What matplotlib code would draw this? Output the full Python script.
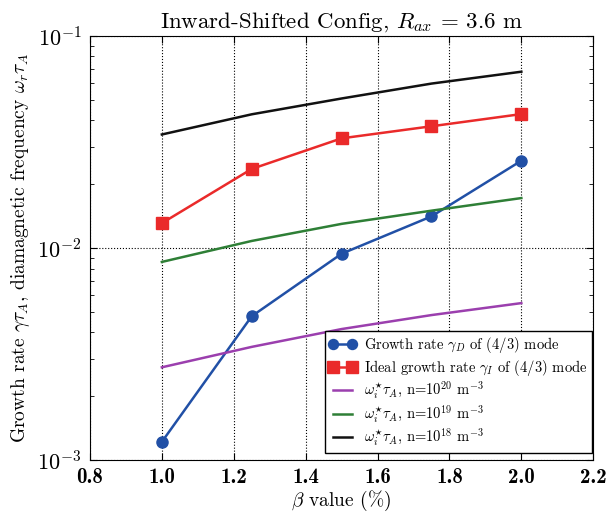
import matplotlib
matplotlib.use('Agg')
import matplotlib.pyplot as plt

# data
beta = [1.0, 1.25, 1.5, 1.75, 2.0]
gamma_D = [1.22e-3, 4.77e-3, 9.4e-3, 1.41e-2, 2.58e-2]
gamma_I = [1.31e-2, 2.36e-2, 3.29e-2, 3.75e-2, 4.28e-2]
omega_n20 = [2.74e-3, 3.42e-3, 4.15e-3, 4.83e-3, 5.5e-3]
omega_n19 = [8.6e-3, 1.08e-2, 1.30e-2, 1.50e-2, 1.72e-2]
omega_n18 = [3.43e-2, 4.27e-2, 5.07e-2, 5.96e-2, 6.78e-2]
xticks = [0.8, 1.0, 1.2, 1.4, 1.6, 1.8, 2.0, 2.2]

plt.rcParams['font.family'] = ['cmr10', 'DejaVu Serif']
plt.rcParams['mathtext.fontset'] = 'cm'
plt.rcParams['axes.formatter.use_mathtext'] = True
plt.rcParams['axes.unicode_minus'] = False

fig = plt.figure(figsize=(6.1, 5.13), dpi=100)
ax = fig.add_axes([0.1475, 0.103, 0.825, 0.827])

ax.plot(beta, gamma_D, '-o', color='#2150a6', lw=1.8, ms=8,
        label=r'Growth rate $\gamma_D$ of (4/3) mode')
ax.plot(beta, gamma_I, '-s', color='#ea2a2a', lw=1.8, ms=9,
        label=r'Ideal growth rate $\gamma_I$ of (4/3) mode')
ax.plot(beta, omega_n20, '-', color='#9b3fae', lw=1.8,
        label=r'$\omega_i^{\star}\tau_A$, n=$10^{20}$ m$^{-3}$')
ax.plot(beta, omega_n19, '-', color='#2e7f36', lw=1.8,
        label=r'$\omega_i^{\star}\tau_A$, n=$10^{19}$ m$^{-3}$')
ax.plot(beta, omega_n18, '-', color='#111111', lw=1.8,
        label=r'$\omega_i^{\star}\tau_A$, n=$10^{18}$ m$^{-3}$')

ax.set_yscale('log')
ax.set_ylim(1e-3, 1e-1)
ax.set_xlim(0.8, 2.2)
ax.set_xticks(xticks)
ax.set_xticklabels(['%.1f' % t for t in xticks], fontfamily='cmb10', fontsize=15)
ax.tick_params(axis='x', pad=6)
ax.tick_params(axis='y', which='major', labelsize=16, pad=6)
ax.tick_params(which='both', direction='in', top=True, right=True)
ax.tick_params(which='major', length=5)
ax.tick_params(which='minor', length=3)
ax.grid(True, which='major', color='black', linestyle=':', linewidth=0.8)

ax.set_xlabel(r'$\beta$ value (%)', fontsize=14, labelpad=1)
ax.set_ylabel(r'Growth rate $\gamma\tau_A$, diamagnetic frequency $\omega_r\tau_A$', fontsize=14)
ax.set_title(r'Inward-Shifted Config, $R_{ax}$ = 3.6 m', fontsize=16.5)

leg = ax.legend(loc='lower right', bbox_to_anchor=(0.997, 0.018), borderaxespad=0,
                fontsize=10.5, numpoints=2, handlelength=1.9, handletextpad=0.5,
                labelspacing=0.15, borderpad=0.3, markerscale=0.9, fancybox=False,
                framealpha=1, edgecolor='black')
leg.get_frame().set_linewidth(1.0)

fig.savefig('out.png', dpi=100)
